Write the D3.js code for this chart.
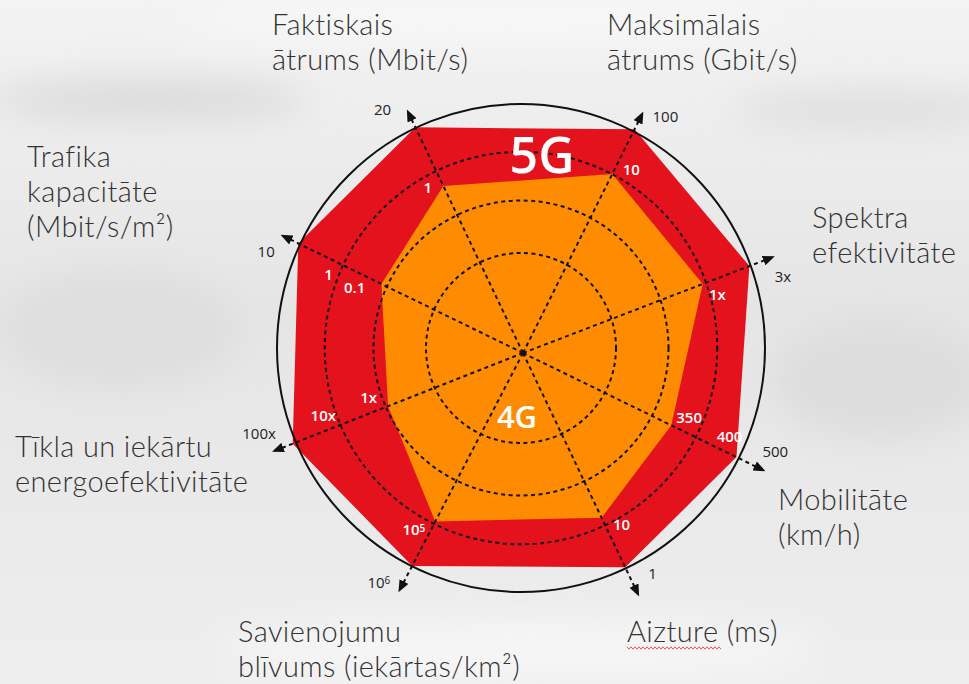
<!DOCTYPE html>
<html>
<head>
<meta charset="utf-8">
<script src="https://cdn.jsdelivr.net/npm/d3@7"></script>
<style>
  body { margin: 0; background: #ececec; overflow: hidden; }
  svg { display: block; }
</style>
</head>
<body>
<div id="canvas"></div>
<script>
// --- dati ---
const axisNames = [
    ["Faktiskais", "ātrums (Mbit/s)"],
    ["Maksimālais", "ātrums (Gbit/s)"],
    ["Spektra", "efektivitāte"],
    ["Mobilitāte", "(km/h)"],
    ["Aizture (ms)"],
    ["Savienojumu", "blīvums (iekārtas/km²)"],
    ["Tīkla un iekārtu", "energoefektivitāte"],
    ["Trafika", "kapacitāte", "(Mbit/s/m²)"]
];
const seriesNames = ["4G", "5G"];
// relative position on each axis (0 = centre, 1 = outer ring)
const values4G = [0.74, 0.80, 0.77, 0.66, 0.73, 0.76, 0.58, 0.63];
const values5G = [1.0, 1.0, 0.97, 0.95, 0.95, 0.96, 0.99, 1.0];
// tick labels on each axis: [text, superscript, relative position]
const tickLabels = [
    [["1", "", 0.76], ["20", "", 1.12]],
    [["10", "", 0.85], ["100", "", 1.10]],
    [["1x", "", 0.81], ["3x", "", 1.08]],
    [["350", "", 0.71], ["400", "", 0.89], ["500", "", 1.08]],
    [["10", "", 0.79], ["1", "", 1.02]],
    [["10", "5", 0.83], ["10", "6", 1.08]],
    [["1x", "", 0.64], ["10x", "", 0.835], ["100x", "", 1.10]],
    [["0.1", "", 0.72], ["1", "", 0.836], ["10", "", 1.10]]
];
const ringLevels = [0.38, 0.59, 0.785];

// --- izkārtojums ---
const width = 969, height = 684;
const cx = 523, cy = 353;          // spoke centre
const rcx = 521, rcy = 348;        // ring centre
const outerR = 244;
const axisAngles = [-25.5, 26.5, 69, 116, 154.5, 207.5, 248.5, 296];
const tickSide = [-1, 1, 1, -1, -1, 1, 1, -1];
const labelPos = [[272, 35], [607, 35], [812, 228], [778, 510], [627, 642], [238, 642], [15, 457], [27, 167]];
const red = "#e3121d", orange = "#ff8c00";

const svg = d3.select("#canvas").append("svg")
    .attr("width", width)
    .attr("height", height);

// fons (izplūdis foto)
const defs = svg.append("defs");
const bg = defs.append("linearGradient").attr("id", "bg").attr("x1", 0).attr("y1", 0).attr("x2", 0).attr("y2", 1);
bg.append("stop").attr("offset", "0%").attr("stop-color", "#f3f3f3");
bg.append("stop").attr("offset", "45%").attr("stop-color", "#e5e5e5");
bg.append("stop").attr("offset", "100%").attr("stop-color", "#eeeeee");
defs.append("filter").attr("id", "blur").append("feGaussianBlur").attr("stdDeviation", 18);
svg.append("rect").attr("width", width).attr("height", height).attr("fill", "url(#bg)");
const blobs = svg.append("g").attr("filter", "url(#blur)");
blobs.append("ellipse").attr("cx", 150).attr("cy", 100).attr("rx", 160).attr("ry", 18).attr("fill", "#d8d8d8");
blobs.append("ellipse").attr("cx", 870).attr("cy", 110).attr("rx", 140).attr("ry", 16).attr("fill", "#dcdcdc");
blobs.append("ellipse").attr("cx", 120).attr("cy", 330).attr("rx", 120).attr("ry", 60).attr("fill", "#dedede");
blobs.append("ellipse").attr("cx", 880).attr("cy", 380).attr("rx", 110).attr("ry", 60).attr("fill", "#dddddd");
blobs.append("ellipse").attr("cx", 520).attr("cy", 650).attr("rx", 300).attr("ry", 30).attr("fill", "#f6f6f6");
blobs.append("ellipse").attr("cx", 480).attr("cy", 20).attr("rx", 300).attr("ry", 25).attr("fill", "#f7f7f7");

const r = d3.scaleLinear().domain([0, 1]).range([0, 250]);
const ang = i => axisAngles[i] * Math.PI / 180;
const pt = (i, v) => [cx + r(v) * Math.sin(ang(i)), cy - r(v) * Math.cos(ang(i))];

const radar = d3.lineRadial()
    .angle((d, i) => ang(i))
    .radius(d => r(d))
    .curve(d3.curveLinearClosed);

const g = svg.append("g").attr("transform", `translate(${cx},${cy})`);
g.append("path").attr("d", radar(values5G)).attr("fill", red);
g.append("path").attr("d", radar(values4G)).attr("fill", orange);

// riņķi
svg.selectAll("circle.ring").data(ringLevels).enter().append("circle")
    .attr("class", "ring")
    .attr("cx", rcx).attr("cy", rcy)
    .attr("r", d => r(d))
    .attr("fill", "none")
    .attr("stroke", "#111")
    .attr("stroke-width", 2)
    .attr("stroke-dasharray", "4 3.5");

svg.append("circle")
    .attr("cx", rcx).attr("cy", rcy).attr("r", outerR)
    .attr("fill", "none").attr("stroke", "#111").attr("stroke-width", 2);

// asis ar bultām
defs.append("marker")
    .attr("id", "arrow")
    .attr("viewBox", "0 -5 12 10")
    .attr("refX", 11).attr("refY", 0)
    .attr("markerWidth", 12).attr("markerHeight", 10)
    .attr("markerUnits", "userSpaceOnUse")
    .attr("orient", "auto")
    .append("path").attr("d", "M0,-5L12,0L0,5Z").attr("fill", "#111");

svg.selectAll("line.spoke").data(axisNames).enter().append("line")
    .attr("class", "spoke")
    .attr("x1", cx).attr("y1", cy)
    .attr("x2", (d, i) => pt(i, 1.075)[0])
    .attr("y2", (d, i) => pt(i, 1.075)[1])
    .attr("stroke", "#111")
    .attr("stroke-width", 2)
    .attr("stroke-dasharray", "4 3.5")
    .attr("marker-end", "url(#arrow)");

// vērtību etiķetes
tickLabels.forEach((ticks, i) => {
    ticks.forEach(t => {
        const outer = t[2] > 1;
        const off = (outer ? 22 : 15) * tickSide[i];
        const p = pt(i, t[2]);
        const x = p[0] + off * Math.cos(ang(i));
        const y = p[1] + off * Math.sin(ang(i));
        const txt = svg.append("text")
            .attr("x", x).attr("y", y)
            .attr("dy", "0.35em")
            .attr("text-anchor", "middle")
            .attr("font-family", "'Open Sans', sans-serif")
            .attr("font-size", 15)
            .attr("font-weight", outer ? 400 : 600)
            .attr("fill", outer ? "#222" : "#fff")
            .text(t[0]);
        if (t[1]) {
            txt.append("tspan")
                .attr("font-size", 10)
                .attr("dy", "-0.35em")
                .text(t[1]);
        }
    });
});

// sēriju nosaukumi
svg.append("text").attr("x", 542).attr("y", 173)
    .attr("text-anchor", "middle")
    .attr("font-family", "'Open Sans', sans-serif")
    .attr("font-weight", 600).attr("font-size", 50)
    .attr("fill", "#fff").text(seriesNames[1]);
svg.append("text").attr("x", 517).attr("y", 428)
    .attr("text-anchor", "middle")
    .attr("font-family", "'Open Sans', sans-serif")
    .attr("font-weight", 600).attr("font-size", 31)
    .attr("fill", "#fff").text(seriesNames[0]);

// asu nosaukumi
axisNames.forEach((lines, i) => {
    const t = svg.append("text")
        .attr("x", labelPos[i][0]).attr("y", labelPos[i][1])
        .attr("font-family", "Lato, 'Open Sans', sans-serif")
        .attr("font-weight", 300)
        .attr("font-size", 29)
        .attr("letter-spacing", 0.4)
        .attr("fill", "#333");
    lines.forEach((l, j) => {
        t.append("tspan")
            .attr("x", labelPos[i][0])
            .attr("dy", j ? 35 : 0)
            .text(l);
    });
});

// pareizrakstības viļņotā līnija zem "Aizture"
const wave = d3.range(0, 96, 2).map((x, k) => [627 + x, 648 + (k % 2 ? 1.2 : -1.2)]);
svg.append("path")
    .attr("d", d3.line()(wave))
    .attr("fill", "none")
    .attr("stroke", "#e03030")
    .attr("stroke-width", 0.8);
</script>
</body>
</html>
